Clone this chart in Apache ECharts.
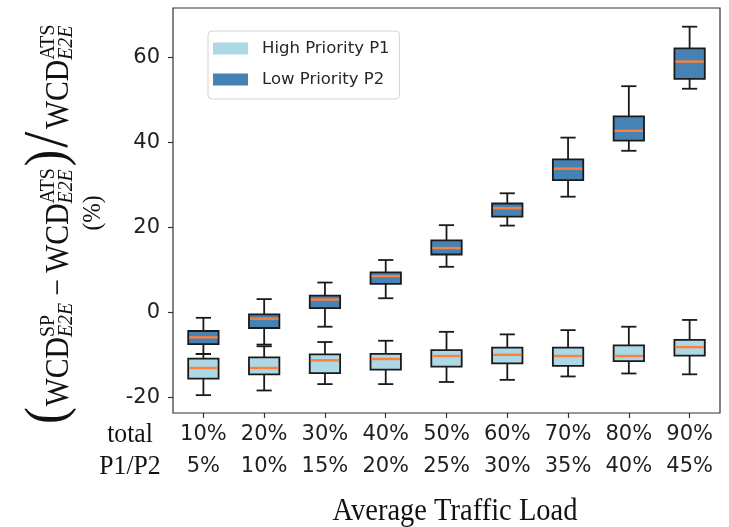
<!DOCTYPE html>
<html>
<head>
<meta charset="utf-8">
<script src="https://cdn.jsdelivr.net/npm/echarts@6/dist/echarts.min.js"></script>
<style>
  html, body { margin: 0; padding: 0; background: #fff; }
  #chart { width: 729px; height: 527px; }
</style>
</head>
<body>
<div id="chart"></div>
<script>
// Load levels: total load per column and the share of each priority class
const categories = ['10%', '20%', '30%', '40%', '50%', '60%', '70%', '80%', '90%'];
const classLoad = ['5%', '10%', '15%', '20%', '25%', '30%', '35%', '40%', '45%'];
const yTicks = [-20, 0, 20, 40, 60];

// Box statistics per load level: [lower whisker, Q1, median, Q3, upper whisker] (%)
const highP1 = [
  [-19.5, -15.6, -13.1, -10.9, -9.8],
  [-18.4, -14.6, -13.1, -10.6, -8.0],
  [-16.9, -14.3, -11.3, -9.9, -7.0],
  [-16.9, -13.5, -11.0, -9.8, -6.7],
  [-16.4, -12.8, -10.3, -8.9, -4.6],
  [-15.9, -12.0, -10.0, -8.3, -5.2],
  [-15.1, -12.6, -10.3, -8.3, -4.2],
  [-14.4, -11.5, -10.3, -7.8, -3.4],
  [-14.6, -10.2, -8.2, -6.5, -1.8]
];
const lowP2 = [
  [-9.8, -7.5, -5.9, -4.4, -1.3],
  [-7.6, -3.7, -1.5, -0.5, 3.1],
  [-3.4, 1.0, 3.0, 3.9, 7.0],
  [3.3, 6.7, 8.5, 9.4, 12.3],
  [10.7, 13.6, 15.1, 16.9, 20.5],
  [20.4, 22.5, 24.5, 25.6, 28.0],
  [27.2, 31.1, 33.8, 36.0, 41.1],
  [38.0, 40.4, 42.7, 46.1, 53.2],
  [52.6, 54.9, 59.0, 62.1, 67.2]
];

const COLOR_P1 = '#add8e6';
const COLOR_P2 = '#4682b4';
const MEDIAN = '#ff7f3a';
const EDGE = '#1a1a1a';
const SERIF = '"Liberation Serif", "Times New Roman", serif';
const SANS = '"DejaVu Sans", sans-serif';

// Matplotlib-style box: half-width caps, orange median
function boxRenderer(fill) {
  return function (params, api) {
    const i = api.value(0);
    const ys = [1, 2, 3, 4, 5].map(d => api.coord([i, api.value(d)])[1]);
    const [lo, q1, med, q3, hi] = ys;
    const cx = api.coord([i, 0])[0];
    const bw = api.size([1, 0])[0] * 0.5;
    const cw = bw * 0.5;
    const line = { stroke: EDGE, lineWidth: 1.8 };
    return {
      type: 'group',
      children: [
        { type: 'line', shape: { x1: cx, y1: hi, x2: cx, y2: q3 }, style: line },
        { type: 'line', shape: { x1: cx, y1: q1, x2: cx, y2: lo }, style: line },
        { type: 'line', shape: { x1: cx - cw / 2, y1: hi, x2: cx + cw / 2, y2: hi }, style: line },
        { type: 'line', shape: { x1: cx - cw / 2, y1: lo, x2: cx + cw / 2, y2: lo }, style: line },
        { type: 'rect', shape: { x: cx - bw / 2, y: q3, width: bw, height: q1 - q3 },
          style: { fill: fill, stroke: EDGE, lineWidth: 1.8 } },
        { type: 'line', shape: { x1: cx - bw / 2 + 1, y1: med, x2: cx + bw / 2 - 1, y2: med },
          style: { stroke: MEDIAN, lineWidth: 2.4 } }
      ]
    };
  };
}

// Rotated math label: (WCD^SP_E2E − WCD^ATS_E2E) / WCD^ATS_E2E
function buildYLabel() {
  const ctx = document.createElement('canvas').getContext('2d');
  const measure = (t, size, italic) => {
    ctx.font = (italic ? 'italic ' : '') + size + 'px ' + SERIF;
    return ctx.measureText(t).width;
  };
  const MAIN = 33, SCRIPT = 22, BIG = 56;
  const vMain = 59, vSup = 48, vSub = 66, vBig = 49;
  const kids = [];
  let u = 0;
  const put = (t, size, v, italic) => {
    kids.push({
      type: 'text', x: u, y: v,
      style: {
        text: t, fontSize: size, fontFamily: SERIF,
        fontStyle: italic ? 'italic' : 'normal', fill: '#111',
        align: 'left', verticalAlign: 'middle',
        textAlign: 'left', textVerticalAlign: 'middle'
      }
    });
    return measure(t, size, italic);
  };
  const word = (t, size, v, after) => { u += put(t, size, v, false) + (after || 0); };
  const scripts = (sup, sub) => {
    const w1 = put(sup, SCRIPT, vSup, false);
    const w2 = put(sub, SCRIPT, vSub, true);
    u += Math.max(w1, w2) + 1;
  };
  word('(', BIG, vBig, 1);
  word('WCD', MAIN, vMain);
  scripts('SP', 'E2E');
  u += 7;
  word('\u2212', MAIN, vMain, 7);
  word('WCD', MAIN, vMain);
  scripts('ATS', 'E2E');
  u += 1;
  word(')', BIG, vBig, 2);
  word('/', BIG + 8, vBig + 1, 3);
  word('WCD', MAIN, vMain);
  scripts('ATS', 'E2E');
  return kids;
}

const chart = echarts.init(document.getElementById('chart'), null, { renderer: 'canvas' });

chart.setOption({
  animation: false,
  backgroundColor: '#fff',
  grid: {
    left: 173, right: 9, top: 8, bottom: 114,
    show: true, borderColor: '#333', borderWidth: 1.2, backgroundColor: 'transparent'
  },
  legend: {
    orient: 'vertical',
    left: 208, top: 31,
    padding: [9, 10, 11, 5],
    itemWidth: 35, itemHeight: 12, itemGap: 14,
    borderColor: '#d4d4d4', borderWidth: 1, borderRadius: 4,
    backgroundColor: 'rgba(255,255,255,0.8)',
    textStyle: { fontFamily: SANS, fontSize: 16.5, color: '#262626', padding: [0, 0, 0, 9] },
    itemStyle: { borderWidth: 0 },
    data: [
      { name: 'High Priority P1', icon: 'rect' },
      { name: 'Low Priority P2', icon: 'rect' }
    ]
  },
  xAxis: {
    type: 'category',
    data: categories,
    boundaryGap: true,
    axisLine: { show: false, onZero: false },
    axisTick: { show: true, alignWithLabel: true, length: 5, lineStyle: { color: '#333', width: 1.2 } },
    axisLabel: {
      margin: 6,
      fontFamily: SANS, fontSize: 21, color: '#1f1f1f', lineHeight: 32,
      formatter: (v, i) => v + '\n' + classLoad[i]
    },
    splitLine: { show: false }
  },
  yAxis: {
    type: 'value',
    min: -23.7, max: 71.6,
    axisLine: { show: false, onZero: false },
    axisTick: { show: true, length: 5, customValues: yTicks, lineStyle: { color: '#333', width: 1.2 } },
    axisLabel: {
      margin: 13, customValues: yTicks,
      fontFamily: SANS, fontSize: 21, color: '#1f1f1f',
      formatter: v => String(v)
    },
    splitLine: { show: false }
  },
  graphic: [
    {
      type: 'group', x: 0, y: 424, rotation: Math.PI / 2, scaleX: 0.9, scaleY: 1,
      children: buildYLabel()
    },
    {
      type: 'text', x: 93, y: 213, rotation: Math.PI / 2, scaleX: 0.9,
      style: { text: '(%)', fontSize: 26, fontFamily: SERIF, fill: '#111',
               align: 'center', verticalAlign: 'middle', textAlign: 'center', textVerticalAlign: 'middle' }
    },
    {
      type: 'text', x: 130, y: 435, scaleX: 0.95,
      style: { text: 'total', fontSize: 27, fontFamily: SERIF, fill: '#111',
               align: 'center', verticalAlign: 'middle', textAlign: 'center', textVerticalAlign: 'middle' }
    },
    {
      type: 'text', x: 130, y: 467, scaleX: 0.95,
      style: { text: 'P1/P2', fontSize: 27, fontFamily: SERIF, fill: '#111',
               align: 'center', verticalAlign: 'middle', textAlign: 'center', textVerticalAlign: 'middle' }
    },
    {
      type: 'text', x: 455, y: 512, scaleX: 0.92,
      style: { text: 'Average Traffic Load', fontSize: 31, fontFamily: SERIF, fill: '#111',
               align: 'center', verticalAlign: 'middle', textAlign: 'center', textVerticalAlign: 'middle' }
    }
  ],
  series: [
    {
      type: 'custom', name: 'High Priority P1',
      renderItem: boxRenderer(COLOR_P1),
      itemStyle: { color: COLOR_P1 },
      encode: { x: 0, y: [1, 2, 3, 4, 5] },
      data: highP1.map((d, i) => [i].concat(d)),
      z: 2
    },
    {
      type: 'custom', name: 'Low Priority P2',
      renderItem: boxRenderer(COLOR_P2),
      itemStyle: { color: COLOR_P2 },
      encode: { x: 0, y: [1, 2, 3, 4, 5] },
      data: lowP2.map((d, i) => [i].concat(d)),
      z: 3
    }
  ]
});
</script>
</body>
</html>
